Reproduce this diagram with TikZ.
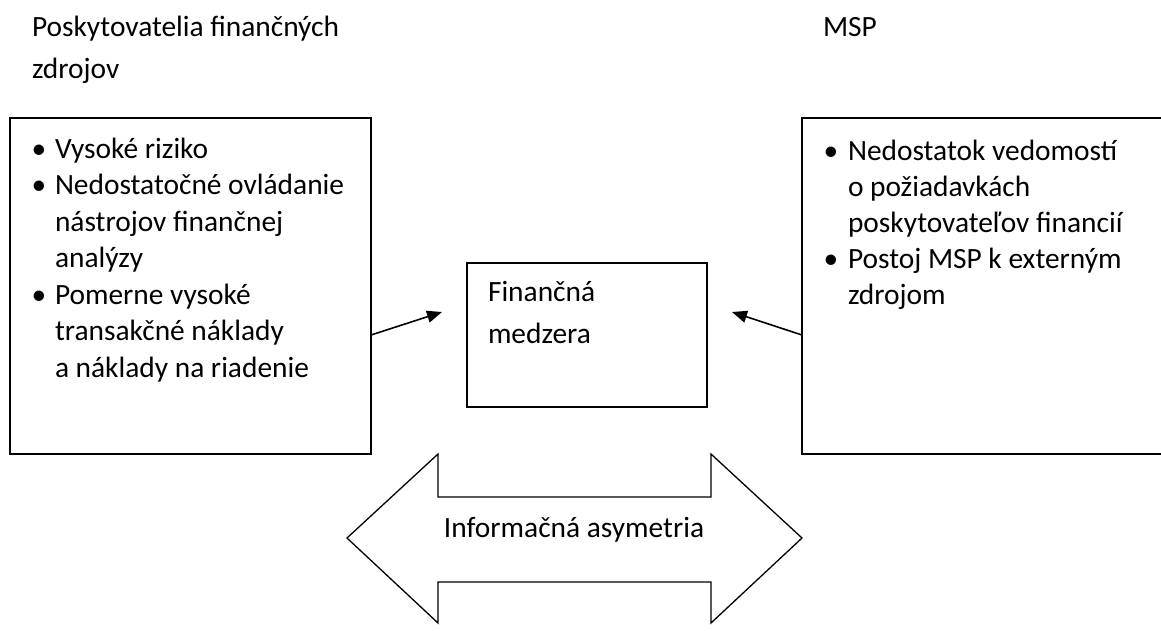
\documentclass[tikz,border=0pt]{standalone}
\usepackage{fontspec}
\setmainfont{Carlito}
\usetikzlibrary{arrows.meta}
\begin{document}
\begin{tikzpicture}[x=1pt,y=-1pt,
  txt/.style={anchor=base west,inner sep=0pt,outer sep=0pt,font=\fontsize{29.4}{34}\selectfont},
  bul/.style={anchor=base,inner sep=0pt,outer sep=0pt,font=\fontsize{29.4}{34}\selectfont},
  frame/.style={draw=black,line width=1.6pt},
  conn/.style={line width=1.6pt,-{Triangle[length=15pt,width=12pt]}}]
\useasboundingbox (0,0) rectangle (1161,630);
% titles
\node[txt] (t1) at (32,36) {Poskytovatelia finančných};
\node[txt] (t2) at (32,78) {zdrojov};
\node[txt] (t3) at (823,36) {MSP};
% boxes
\draw[frame] (10,118) rectangle (371,454);
\draw[frame] (802,118) rectangle (1175,454);
\draw[frame] (467,263) rectangle (707,407);
\coordinate (lb) at (371,335);
\coordinate (la) at (442,312);
\coordinate (rb) at (802,335);
\coordinate (ra) at (732,312);
% left texts
\node[bul] (b1) at (39,158) {•};
\node[txt] (l1) at (55,158) {Vysoké riziko};
\node[bul] (b2) at (39,194.5) {•};
\node[txt] (l2) at (55,194.5) {Nedostatočné ovládanie};
\node[txt] (l3) at (55,231) {nástrojov finančnej};
\node[txt] (l4) at (55,267.5) {analýzy};
\node[bul] (b3) at (39,304) {•};
\node[txt] (l5) at (55,304) {Pomerne vysoké};
\node[txt] (l6) at (55,340.5) {transakčné náklady};
\node[txt] (l7) at (55,377) {a náklady na riadenie};
% right texts
\node[bul] (b4) at (831,160) {•};
\node[txt] (r1) at (848,160) {Nedostatok vedomostí};
\node[txt] (r2) at (848,196) {o požiadavkách};
\node[txt] (r3) at (848,232) {poskytovateľov financií};
\node[bul] (b5) at (831,268) {•};
\node[txt] (r4) at (848,268) {Postoj MSP k externým};
\node[txt] (r5) at (848,304) {zdrojom};
% middle
\node[txt] (m1) at (488,301) {Finančná};
\node[txt] (m2) at (488,343) {medzera};
% arrows
\draw[conn] (lb) -- (la);
\draw[conn] (rb) -- (ra);
% double arrow
\draw[line width=1.3pt,line join=miter] (347,538) -- (438,454) -- (438,497) -- (711,497) -- (711,454) -- (802,538) -- (711,623) -- (711,582) -- (438,582) -- (438,623) -- cycle;
\node[txt,anchor=base] (ia) at (574,537) {Informačná asymetria};
\end{tikzpicture}
\end{document}
